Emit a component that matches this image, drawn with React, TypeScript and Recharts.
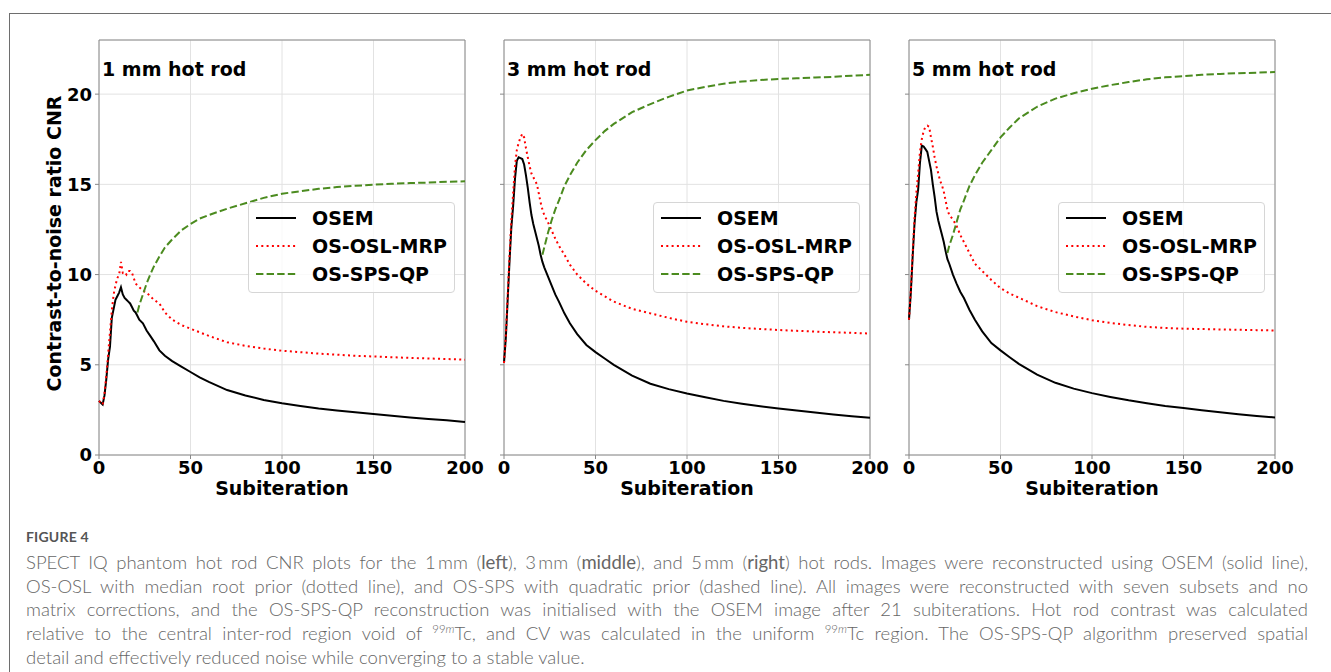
import React from "react";
import { LineChart, Line, XAxis, YAxis, CartesianGrid, ReferenceArea, Legend } from "recharts";

// subiteration samples shared by all panels
const SUBITS = [
  0, 1, 2, 3, 4, 5, 6, 7, 8, 9, 10, 11, 12, 13, 14, 15, 16, 17, 18, 19, 20,
  21, 22, 24, 26, 28, 30, 33, 36, 40, 45, 50, 55, 60, 70, 80, 90, 100,
  110, 120, 130, 140, 150, 160, 170, 180, 190, 200,
];
// OS-SPS-QP is started from the OSEM image after 21 subiterations
const QP_START = 21;

const X_TICKS = [0, 50, 100, 150, 200];
const Y_TICKS = [0, 5, 10, 15, 20];
const Y_MAX = 23;

// 1 mm hot rod
const OSEM_1MM = [
  3.0, 2.9, 2.8, 3.3, 4.2, 5.3, 6.0, 7.6, 8.1, 8.6, 8.8, 9.0, 9.3, 8.9, 8.7, 8.6, 8.5, 8.4, 8.2, 8.0, 7.9,
  7.7, 7.5, 7.3, 6.9, 6.6, 6.3, 5.8, 5.5, 5.2, 4.9, 4.6, 4.3, 4.05, 3.6, 3.3, 3.05, 2.87,
  2.72, 2.58, 2.47, 2.37, 2.27, 2.17, 2.08, 2.0, 1.92, 1.83,
];
const MRP_1MM = [
  3.0, 2.9, 2.8, 3.4, 4.4, 5.6, 6.8, 8.0, 8.9, 9.4, 9.8, 10.0, 10.7, 10.1, 10.15, 10.0, 10.2, 10.2, 10.1, 9.8, 9.5,
  9.4, 9.3, 9.1, 9.0, 8.8, 8.6, 8.4, 7.9, 7.5, 7.2, 7.0, 6.8, 6.6, 6.25, 6.05, 5.9, 5.78,
  5.7, 5.62, 5.56, 5.5, 5.46, 5.42, 5.38, 5.35, 5.32, 5.28,
];
const QP_1MM = [
  7.9, 8.3, 8.9, 9.5, 10.0, 10.45, 11.0, 11.5, 11.95, 12.45, 12.8, 13.1, 13.3, 13.65, 13.95, 14.25, 14.48,
  14.62, 14.75, 14.85, 14.92, 14.98, 15.03, 15.07, 15.1, 15.14, 15.17,
];

// 3 mm hot rod
const OSEM_3MM = [
  5.1, 6.5, 8.6, 10.7, 12.6, 13.8, 15.3, 16.3, 16.5, 16.45, 16.4, 16.1, 15.5, 14.8, 14.0, 13.3, 12.8, 12.4, 12.0, 11.6, 11.1,
  10.7, 10.4, 9.9, 9.4, 8.9, 8.5, 7.85, 7.3, 6.7, 6.1, 5.7, 5.35, 5.0, 4.4, 3.95, 3.65, 3.41,
  3.2, 3.0, 2.84, 2.7, 2.58, 2.46, 2.35, 2.25, 2.15, 2.07,
];
const MRP_3MM = [
  5.1, 6.6, 8.8, 11.0, 13.0, 14.5, 16.0, 16.9, 17.3, 17.6, 17.8, 17.6, 17.0, 16.5, 16.0, 15.6, 15.4, 15.2, 15.0, 14.5, 14.0,
  13.6, 13.3, 12.9, 12.45, 12.0, 11.6, 11.1, 10.55, 10.0, 9.5, 9.1, 8.8, 8.5, 8.1, 7.85, 7.6, 7.38,
  7.25, 7.13, 7.05, 6.98, 6.93, 6.88, 6.84, 6.8, 6.77, 6.73,
];
const QP_3MM = [
  11.1, 11.5, 12.3, 13.0, 13.6, 14.1, 14.9, 15.5, 16.2, 16.9, 17.45, 17.95, 18.35, 19.0, 19.45, 19.85, 20.2,
  20.4, 20.58, 20.7, 20.78, 20.84, 20.88, 20.92, 20.96, 21.02, 21.07,
];

// 5 mm hot rod
const OSEM_5MM = [
  7.5, 9.0, 11.0, 12.8, 14.0, 14.7, 16.2, 17.15, 17.1, 16.95, 16.8, 16.3, 15.8, 15.0, 14.3, 13.5, 13.0, 12.6, 12.2, 11.8, 11.3,
  10.85, 10.6, 10.0, 9.5, 9.05, 8.7, 8.05, 7.5, 6.85, 6.2, 5.8, 5.42, 5.05, 4.45, 4.0, 3.68, 3.43,
  3.22, 3.03, 2.87, 2.72, 2.6, 2.48, 2.37, 2.26, 2.16, 2.08,
];
const MRP_5MM = [
  7.5, 9.1, 11.2, 13.1, 14.5, 15.6, 16.8, 17.5, 17.95, 18.2, 18.25, 18.2, 17.6, 17.1, 16.5, 16.0, 15.6, 15.2, 14.95, 14.6, 14.1,
  13.6, 13.3, 13.05, 12.7, 12.2, 11.8, 11.2, 10.6, 10.2, 9.7, 9.25, 8.95, 8.72, 8.25, 7.92, 7.68, 7.47,
  7.32, 7.2, 7.1, 7.04, 7.0, 6.98, 6.96, 6.94, 6.92, 6.9,
];
const QP_5MM = [
  11.2, 11.6, 12.2, 12.9, 13.6, 14.1, 14.9, 15.5, 16.2, 16.9, 17.6, 18.15, 18.65, 19.3, 19.75, 20.05, 20.3,
  20.5, 20.67, 20.82, 20.93, 21.0, 21.07, 21.12, 21.16, 21.19, 21.22,
];

const SERIES = [
  { key: "osem", name: "OSEM", color: "#000000", dash: undefined as string | undefined },
  { key: "mrp", name: "OS-OSL-MRP", color: "#ff0000", dash: "2 3.3" },
  { key: "qp", name: "OS-SPS-QP", color: "#4b8b1f", dash: "7.4 3.2" },
];

function buildRows(osem: number[], mrp: number[], qp: number[]) {
  const qpOffset = SUBITS.indexOf(QP_START);
  return SUBITS.map((s, i) => ({
    s,
    osem: osem[i],
    mrp: mrp[i],
    qp: i >= qpOffset ? qp[i - qpOffset] : null,
  }));
}

const PANELS = [
  { title: "1 mm hot rod", rows: buildRows(OSEM_1MM, MRP_1MM, QP_1MM) },
  { title: "3 mm hot rod", rows: buildRows(OSEM_3MM, MRP_3MM, QP_3MM) },
  { title: "5 mm hot rod", rows: buildRows(OSEM_5MM, MRP_5MM, QP_5MM) },
];

const PLOT_W = 366;
const PLOT_H = 415;
const PLOT_TOP = 40;
const X_AXIS_H = 45;
const RIGHT_PAD = 26;
const PLOT_LEFTS = [99, 504, 909];
const FONT = "'DejaVu Sans', sans-serif";
const tickStyle = { fill: "#000", fontSize: 18, fontWeight: 700, fontFamily: FONT };
const labelStyle = { ...tickStyle, fontSize: 19, textAnchor: "middle" as const };
const CAPTION_FONT = "Lato, 'Open Sans', sans-serif";

function LegendBox() {
  return (
    <div
      style={{
        width: 207, height: 91, boxSizing: "border-box", paddingTop: 1, paddingLeft: 7,
        border: "1px solid #d6d6d6", borderRadius: 4, background: "rgba(255,255,255,0.8)",
      }}
    >
      {SERIES.map((s) => (
        <div key={s.key} style={{ display: "flex", alignItems: "center", height: 28 }}>
          <svg width={40} height={6}>
            <line x1={0} y1={3} x2={40} y2={3} stroke={s.color} strokeWidth={2} strokeDasharray={s.dash} />
          </svg>
          <span style={{ marginLeft: 16, fontSize: 19, fontWeight: 700, color: "#000", fontFamily: FONT, whiteSpace: "nowrap" }}>
            {s.name}
          </span>
        </div>
      ))}
    </div>
  );
}

function Panel({ idx }: { idx: number }) {
  const p = PANELS[idx];
  const first = idx === 0;
  const yW = first ? 99 : 10;
  const left = PLOT_LEFTS[idx] - yW;
  const width = yW + PLOT_W + RIGHT_PAD;
  const height = PLOT_TOP + PLOT_H + X_AXIS_H;
  return (
    <div style={{ position: "absolute", left, top: 0 }}>
      <LineChart width={width} height={height} data={p.rows} margin={{ top: PLOT_TOP, right: RIGHT_PAD, bottom: 0, left: 0 }}>
        <CartesianGrid stroke="#e2e2e2" strokeWidth={1} />
        <XAxis
          dataKey="s"
          type="number"
          domain={[0, 200]}
          ticks={X_TICKS}
          height={X_AXIS_H}
          axisLine={false}
          tickSize={4}
          tickMargin={2}
          tickLine={{ stroke: "#888" }}
          tick={tickStyle}
          interval={0}
          label={{ value: "Subiteration", position: "insideBottom", offset: 5, style: labelStyle }}
        />
        <YAxis
          type="number"
          domain={[0, Y_MAX]}
          ticks={Y_TICKS}
          width={yW}
          axisLine={false}
          tickSize={4}
          tickMargin={3}
          tickLine={{ stroke: "#888" }}
          tick={tickStyle}
          interval={0}
          tickFormatter={(v: number) => (first ? String(v) : "")}
          label={
            first
              ? { value: "Contrast-to-noise ratio CNR", angle: -90, position: "insideLeft", offset: 54, dy: -4, style: labelStyle }
              : undefined
          }
        />
        {SERIES.map((s) => (
          <Line
            key={s.key}
            type="linear"
            dataKey={s.key}
            name={s.name}
            stroke={s.color}
            strokeWidth={2}
            strokeDasharray={s.dash}
            dot={false}
            activeDot={false}
            isAnimationActive={false}
          />
        ))}
        <ReferenceArea x1={0} x2={200} y1={0} y2={Y_MAX} fill="none" stroke="#8a8a8a" strokeWidth={1} ifOverflow="visible" />
        <Legend
          layout="horizontal"
          verticalAlign="middle"
          align="center"
          content={() => <LegendBox />}
          wrapperStyle={{ left: yW + 149, top: 202, width: 207, height: 91 }}
        />
      </LineChart>
      <div
        style={{
          position: "absolute", left: yW + 3, top: 58, fontFamily: FONT, fontSize: 19,
          fontWeight: 700, lineHeight: "22px", color: "#000", whiteSpace: "nowrap",
        }}
      >
        {p.title}
      </div>
    </div>
  );
}

const supStyle: React.CSSProperties = { fontSize: "0.62em", lineHeight: 0, verticalAlign: "baseline", position: "relative", top: "-0.65em" };

const CAPTION_LINES: React.ReactNode[] = [
  <>SPECT IQ phantom hot rod CNR plots for the 1&#8201;mm (<b>left</b>), 3&#8201;mm (<b>middle</b>), and 5&#8201;mm (<b>right</b>) hot rods. Images were reconstructed using OSEM (solid line),</>,
  <>OS-OSL with median root prior (dotted line), and OS-SPS with quadratic prior (dashed line). All images were reconstructed with seven subsets and no</>,
  <>matrix corrections, and the OS-SPS-QP reconstruction was initialised with the OSEM image after 21 subiterations. Hot rod contrast was calculated</>,
  <>relative to the central inter-rod region void of <span style={supStyle}>99<i>m</i></span>Tc, and CV was calculated in the uniform <span style={supStyle}>99<i>m</i></span>Tc region. The OS-SPS-QP algorithm preserved spatial</>,
  <>detail and effectively reduced noise while converging to a stable value.</>,
];

export default function App() {
  return (
    <div style={{ position: "absolute", left: 0, top: 0, width: 1331, height: 672, overflow: "hidden", background: "#fff" }}>
      <div
        style={{
          position: "absolute", left: 9, top: 13, width: 1400, height: 800,
          borderTop: "1px solid #6e6e6e", borderLeft: "1px solid #6e6e6e",
        }}
      />
      {PANELS.map((_, i) => (
        <Panel key={i} idx={i} />
      ))}
      <div
        style={{
          position: "absolute", left: 26, top: 528, fontFamily: CAPTION_FONT,
          fontSize: 14, fontWeight: 700, color: "#555", lineHeight: "18px", letterSpacing: 0.2,
        }}
      >
        FIGURE 4
      </div>
      <div
        style={{
          position: "absolute", left: 26, top: 551, width: 1282, fontFamily: CAPTION_FONT,
          fontSize: 18.5, fontWeight: 300, color: "#666", lineHeight: "23.7px",
        }}
      >
        {CAPTION_LINES.map((ln, i) => (
          <div
            key={i}
            style={{
              textAlign: i < CAPTION_LINES.length - 1 ? "justify" : "left",
              textAlignLast: i < CAPTION_LINES.length - 1 ? "justify" : "left",
              height: 23.7,
              whiteSpace: "nowrap",
            }}
          >
            {ln}
          </div>
        ))}
      </div>
    </div>
  );
}
